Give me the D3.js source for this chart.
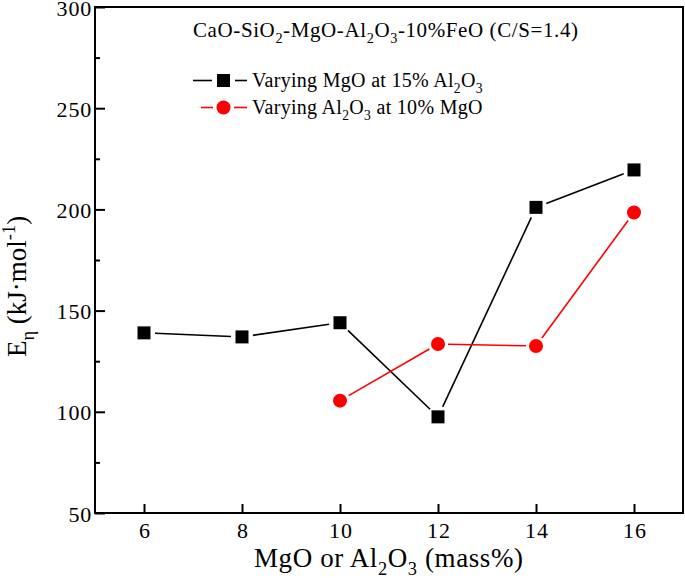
<!DOCTYPE html>
<html>
<head>
<meta charset="utf-8">
<script src="https://cdn.jsdelivr.net/npm/d3@7"></script>
<style>
  html, body { margin: 0; padding: 0; background: #fff; }
  svg { display: block; }
  text { font-family: "Liberation Serif", Tinos, "Times New Roman", Times, serif; fill: #000; }
</style>
</head>
<body>
<svg id="chart" width="685" height="578"></svg>
<script>
// ---- data ----
const xTicks = [6, 8, 10, 12, 14, 16];
const yTicks = [50, 100, 150, 200, 250, 300];
const yMinorTicks = [75, 125, 175, 225, 275];
const mgoX = [6, 8, 10, 12, 14, 16];
const mgoE = [139, 137, 144, 97.5, 201, 219.5];
const alX = [10, 12, 14, 16];
const alE = [105.5, 133.5, 132.5, 198.5];
const seriesNames = ["Varying MgO at 15% Al2O3", "Varying Al2O3 at 10% MgO"];

const FONT = '"Liberation Serif", Tinos, "Times New Roman", Times, serif';

// ---- layout ----
const W = 685, H = 578;
const m = { left: 95, top: 7, right: 2, bottom: 65 };
const svg = d3.select("#chart");
const x = d3.scaleLinear().domain([5, 17]).range([m.left, W - m.right]);
const y = d3.scaleLinear().domain([50, 300]).range([H - m.bottom, m.top]);

function rich(sel, parts, size) {
  parts.forEach(p => {
    const t = sel.append("tspan").text(p[0]);
    if (p[1] === "sub") {
      t.attr("font-size", size * 0.68).attr("dy", size * 0.28);
    } else if (p[1] === "sup") {
      t.attr("font-size", size * 0.68).attr("dy", -size * 0.4);
    } else if (p[1] === "subret") {
      t.attr("dy", -size * 0.28);
    } else if (p[1] === "supret") {
      t.attr("dy", size * 0.4);
    }
  });
}

// axes
const gx = svg.append("g").attr("transform", `translate(0,${y(50)})`)
  .call(d3.axisBottom(x).tickValues(xTicks).tickSize(-9).tickPadding(9).tickFormat(d3.format("d")));
const gy = svg.append("g").attr("transform", `translate(${x(5)},0)`)
  .call(d3.axisLeft(y).tickValues(yTicks).tickSize(-10).tickPadding(3).tickFormat(d3.format("d")));
const gym = svg.append("g").attr("transform", `translate(${x(5)},0)`)
  .call(d3.axisLeft(y).tickValues(yMinorTicks).tickSize(-5).tickFormat(""));
[gx, gy, gym].forEach(g => {
  g.attr("font-family", FONT);
  g.select(".domain").remove();
  g.selectAll("line").attr("stroke", "#000").attr("stroke-width", 2);
  g.selectAll("text").style("font-family", FONT).attr("font-size", 22)
    .style("letter-spacing", "0.8px").attr("fill", "#000");
});
gx.selectAll("text").attr("dy", "0.71em").attr("dx", "0.4px");
gy.selectAll("text").attr("dy", "0.37em");

// frame
svg.append("rect")
  .attr("x", x(5)).attr("y", y(300))
  .attr("width", x(17) - x(5)).attr("height", y(50) - y(300))
  .attr("fill", "none").attr("stroke", "#000").attr("stroke-width", 2);

function gappedSegments(xs, ys, gap, color) {
  for (let i = 0; i < xs.length - 1; i++) {
    const x1 = x(xs[i]), y1 = y(ys[i]), x2 = x(xs[i + 1]), y2 = y(ys[i + 1]);
    const dx = x2 - x1, dy = y2 - y1, L = Math.hypot(dx, dy);
    const ux = dx / L, uy = dy / L;
    svg.append("line")
      .attr("x1", x1 + ux * gap).attr("y1", y1 + uy * gap)
      .attr("x2", x2 - ux * gap).attr("y2", y2 - uy * gap)
      .attr("stroke", color).attr("stroke-width", 1.6);
  }
}
gappedSegments(mgoX, mgoE, 11, "#000");
gappedSegments(alX, alE, 10, "#ff0000");

const sq = 13;
svg.append("g").selectAll("rect").data(mgoX.map((d, i) => [d, mgoE[i]])).join("rect")
  .attr("x", d => x(d[0]) - sq / 2).attr("y", d => y(d[1]) - sq / 2)
  .attr("width", sq).attr("height", sq).attr("fill", "#000");
svg.append("g").selectAll("circle").data(alX.map((d, i) => [d, alE[i]])).join("circle")
  .attr("cx", d => x(d[0])).attr("cy", d => y(d[1])).attr("r", 7).attr("fill", "#ff0000");

// title
const tsize = 21;
const title = svg.append("text").attr("x", 193).attr("y", 37).attr("font-size", tsize)
  .style("font-family", FONT).style("letter-spacing", "0.6px");
rich(title, [["CaO-SiO"], ["2", "sub"], ["-MgO-Al", "subret"], ["2", "sub"], ["O", "subret"], ["3", "sub"], ["-10%FeO (C/S=1.4)", "subret"]], tsize);

// legend
const lsize = 20;
const leg = svg.append("g");
leg.append("line").attr("x1", 193).attr("x2", 212).attr("y1", 80.5).attr("y2", 80.5).attr("stroke", "#000").attr("stroke-width", 1.6);
leg.append("line").attr("x1", 235).attr("x2", 247).attr("y1", 80.5).attr("y2", 80.5).attr("stroke", "#000").attr("stroke-width", 1.6);
leg.append("rect").attr("x", 223.5 - sq / 2).attr("y", 80.5 - sq / 2).attr("width", sq).attr("height", sq).attr("fill", "#000");
const l1 = leg.append("text").attr("x", 252).attr("y", 87).attr("font-size", lsize)
  .style("font-family", FONT).style("letter-spacing", "0.3px");
rich(l1, [["Varying MgO at 15% Al"], ["2", "sub"], ["O", "subret"], ["3", "sub"]], lsize);
leg.append("line").attr("x1", 201).attr("x2", 213).attr("y1", 107.5).attr("y2", 107.5).attr("stroke", "#ff0000").attr("stroke-width", 1.6);
leg.append("line").attr("x1", 234).attr("x2", 247).attr("y1", 107.5).attr("y2", 107.5).attr("stroke", "#ff0000").attr("stroke-width", 1.6);
leg.append("circle").attr("cx", 223.5).attr("cy", 107.5).attr("r", 7).attr("fill", "#ff0000");
const l2 = leg.append("text").attr("x", 252).attr("y", 114).attr("font-size", lsize)
  .style("font-family", FONT).style("letter-spacing", "0.3px");
rich(l2, [["Varying Al"], ["2", "sub"], ["O", "subret"], ["3", "sub"], [" at 10% MgO", "subret"]], lsize);

// axis titles
const asize = 27;
const xt = svg.append("text").attr("x", 254).attr("y", 567).attr("font-size", asize)
  .style("font-family", FONT).style("letter-spacing", "0.6px");
rich(xt, [["MgO or Al"], ["2", "sub"], ["O", "subret"], ["3", "sub"], [" (mass%)", "subret"]], asize);

const yt = svg.append("text").attr("transform", "translate(26,357) rotate(-90)").attr("font-size", asize)
  .style("font-family", FONT);
rich(yt, [["E"], ["\u03B7", "sub"], ["  (kJ\u00B7mol", "subret"], ["-1", "sup"], [")", "supret"]], asize);
</script>
</body>
</html>
